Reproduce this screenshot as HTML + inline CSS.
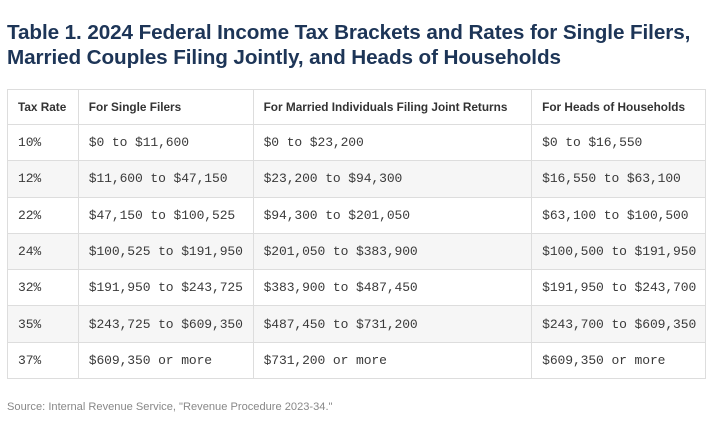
<!DOCTYPE html>
<html><head><style>
body{margin:0;width:720px;height:447px;background:#fff;position:relative;overflow:hidden;font-family:"Liberation Sans",sans-serif}
.t{position:absolute;left:7px;top:20px;font-size:20.7px;font-weight:bold;color:#1d3557;line-height:25px;letter-spacing:-0.1px}
table{position:absolute;left:7px;top:89px;border-collapse:collapse;width:699px}
td,th{border:1px solid #ddd;padding:0 0 0 10px;text-align:left;height:35px;white-space:nowrap}
th{font-size:11.8px;font-weight:bold;color:#333;height:34px}
td{font-family:"Liberation Mono",monospace;font-size:13px;color:#3a3a3a;height:35.3px;letter-spacing:-0.1px}
tr.g td{background:#f6f6f6}
.s{position:absolute;left:7px;top:401px;font-size:11.1px;color:#888}
</style></head><body>
<div class="t">Table 1. 2024 Federal Income Tax Brackets and Rates for Single Filers,<br>Married Couples Filing Jointly, and Heads of Households</div>
<table>
<colgroup><col style="width:71px"><col style="width:175px"><col style="width:279px"><col style="width:174px"></colgroup>
<tr><th>Tax Rate</th><th>For Single Filers</th><th>For Married Individuals Filing Joint Returns</th><th>For Heads of Households</th></tr>
<tr><td>10%</td><td>$0 to $11,600</td><td>$0 to $23,200</td><td>$0 to $16,550</td></tr>
<tr class="g"><td>12%</td><td>$11,600 to $47,150</td><td>$23,200 to $94,300</td><td>$16,550 to $63,100</td></tr>
<tr><td>22%</td><td>$47,150 to $100,525</td><td>$94,300 to $201,050</td><td>$63,100 to $100,500</td></tr>
<tr class="g"><td>24%</td><td>$100,525 to $191,950</td><td>$201,050 to $383,900</td><td>$100,500 to $191,950</td></tr>
<tr><td>32%</td><td>$191,950 to $243,725</td><td>$383,900 to $487,450</td><td>$191,950 to $243,700</td></tr>
<tr class="g"><td>35%</td><td>$243,725 to $609,350</td><td>$487,450 to $731,200</td><td>$243,700 to $609,350</td></tr>
<tr><td>37%</td><td>$609,350 or more</td><td>$731,200 or more</td><td>$609,350 or more</td></tr>
</table>
<div class="s">Source: Internal Revenue Service, "Revenue Procedure 2023-34."</div>
</body></html>
